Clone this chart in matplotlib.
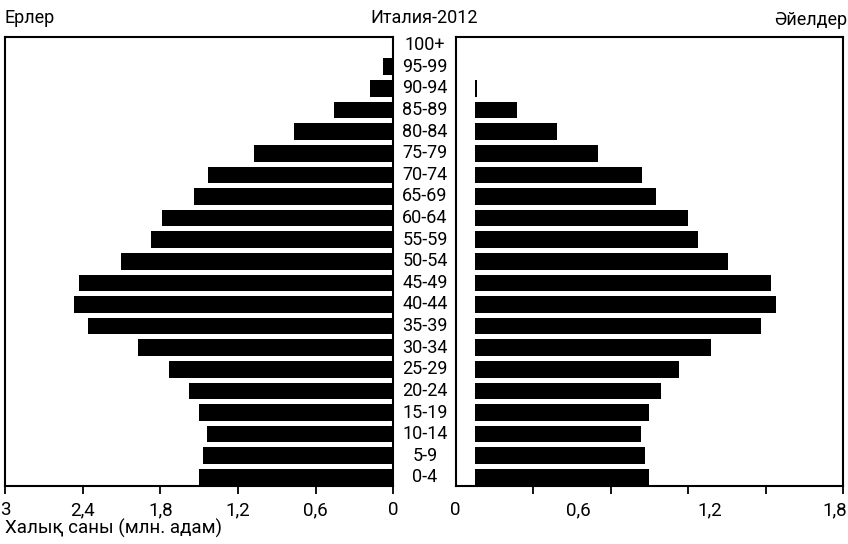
import matplotlib.pyplot as plt
import matplotlib.transforms as mtransforms
import numpy as np

plt.rcParams['font.family'] = ['Roboto', 'DejaVu Sans']

ages = ['0-4', '5-9', '10-14', '15-19', '20-24', '25-29', '30-34', '35-39', '40-44', '45-49',
        '50-54', '55-59', '60-64', '65-69', '70-74', '75-79', '80-84', '85-89', '90-94', '95-99', '100+']
# ерлер, млн
men = [1.50, 1.47, 1.44, 1.50, 1.58, 1.73, 1.97, 2.36, 2.47, 2.43,
       2.10, 1.87, 1.79, 1.54, 1.43, 1.08, 0.77, 0.46, 0.18, 0.08, 0.0]
# әйелдер, по подписям правой шкалы
women = [0.90, 0.88, 0.86, 0.90, 0.955, 1.04, 1.185, 1.42, 1.487, 1.464,
         1.267, 1.127, 1.081, 0.932, 0.867, 0.660, 0.472, 0.286, 0.10, 0.0, 0.0]
left_ticks = [3, 2.4, 1.8, 1.2, 0.6, 0]
left_labels = ['3', '2,4', '1,8', '1,2', '0,6', '0']
# подписи справа стоят не точно над делениями, как в оригинале
right_label_pos = [0, 0.57, 1.18, 1.762]
right_labels = ['0', '0,6', '1,2', '1,8']

W, H = 848, 544
fig = plt.figure(figsize=(W / 100, H / 100), dpi=100)
top, bot = 37, 486
ax_l = fig.add_axes([5 / W, 1 - bot / H, (393.3 - 5) / W, (bot - top) / H])
ax_r = fig.add_axes([455.7 / W, 1 - bot / H, (843 - 455.7) / W, (bot - top) / H])

y = np.arange(len(ages))
h = 0.77
ax_l.barh(y, men, height=h, color='black')
start = 0.09
ax_r.barh(y, np.clip(np.array(women) - start, 0, None), left=start, height=h, color='black')

for ax in (ax_l, ax_r):
    ax.set_ylim(-0.4, 20.38)
    ax.set_yticks([])
    for s in ax.spines.values():
        s.set_linewidth(1.5)
    ax.tick_params(axis='x', labelsize=13.5, direction='out', length=6, width=1.3, pad=5)

ax_l.set_xlim(3, 0)
ax_l.set_xticks(left_ticks)
ax_l.set_xticklabels(left_labels)

ax_r.set_xlim(0, 1.8)
ax_r.set_xticks(right_label_pos)
ax_r.set_xticklabels(right_labels)
ax_r.tick_params(axis='x', which='major', length=0, pad=11)
ax_r.set_xticks(np.linspace(0, 1.8, 6), minor=True)
ax_r.tick_params(axis='x', which='minor', length=6, width=1.3, direction='out')

trans = mtransforms.blended_transform_factory(fig.transFigure, ax_l.transData)
for i, a in enumerate(ages):
    ax_l.text(425 / W, i, a, transform=trans, ha='center', va='center', fontsize=13)

fig.text(5 / W, 1 - 18 / H, 'Ерлер', ha='left', va='center', fontsize=13)
fig.text(424 / W, 1 - 18 / H, 'Италия-2012', ha='center', va='center', fontsize=13)
fig.text(847 / W, 1 - 20 / H, 'Әйелдер', ha='right', va='center', fontsize=13)
fig.text(5 / W, 1 - 528 / H, 'Халық саны (млн. адам)', ha='left', va='center', fontsize=13.5)

fig.savefig('out.png', dpi=100)
